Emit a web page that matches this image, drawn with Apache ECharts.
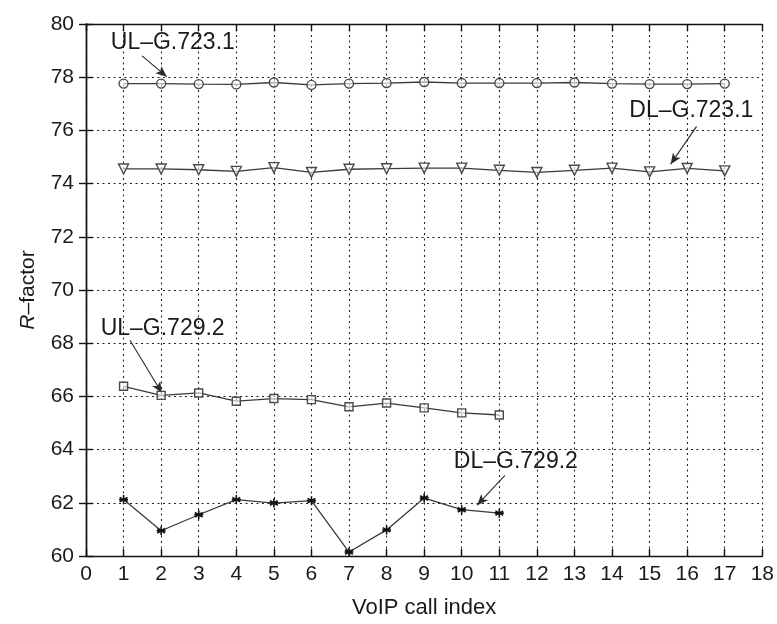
<!DOCTYPE html>
<html>
<head>
<meta charset="utf-8">
<script src="https://cdn.jsdelivr.net/npm/echarts@6/dist/echarts.min.js"></script>
<style>
  html, body { margin: 0; padding: 0; background: #fff; }
  #chart { width: 777px; height: 624px; }
</style>
</head>
<body>
<div id="chart"></div>
<script>
// VoIP call index (x) for each codec/link direction
const callsLong = [1, 2, 3, 4, 5, 6, 7, 8, 9, 10, 11, 12, 13, 14, 15, 16, 17];
const callsShort = [1, 2, 3, 4, 5, 6, 7, 8, 9, 10, 11];

// R-factor per call
const ulG7231 = [77.76, 77.76, 77.74, 77.73, 77.80, 77.71, 77.76, 77.78, 77.82, 77.78, 77.78, 77.78, 77.80, 77.76, 77.74, 77.74, 77.76];
const dlG7231 = [74.55, 74.55, 74.52, 74.46, 74.60, 74.42, 74.54, 74.56, 74.58, 74.58, 74.50, 74.42, 74.50, 74.58, 74.44, 74.57, 74.48];
const ulG7292 = [66.38, 66.04, 66.13, 65.82, 65.92, 65.88, 65.61, 65.75, 65.57, 65.38, 65.30];
const dlG7292 = [62.12, 60.95, 61.55, 62.12, 61.99, 62.08, 60.15, 60.98, 62.18, 61.74, 61.61];

// Axis ranges and ticks
const xMin = 0, xMax = 18, xStep = 1;
const yMin = 60, yMax = 80, yStep = 2;

// Callout labels: text, label anchor, arrow tail, arrow head (data units)
const callouts = [
  { text: 'UL\u2013G.723.1', at: [2.31, 79.29], from: [1.49, 78.80], to: [2.15, 78.02] },
  { text: 'DL\u2013G.723.1', at: [16.11, 76.75], from: [16.25, 76.15], to: [15.56, 74.73] },
  { text: 'UL\u2013G.729.2', at: [2.04, 68.56], from: [1.17, 68.11], to: [2.02, 66.13] },
  { text: 'DL\u2013G.729.2', at: [11.44, 63.55], from: [11.15, 63.03], to: [10.41, 61.91] }
];

const FONT = '"Liberation Sans", Arial, Helvetica, sans-serif';
const INK = '#1a1a1a';

const zip = (xs, ys) => ys.map((y, i) => [xs[i], y]);

const asterisk = 'path://M0,-5L0,5M-4.33,-2.5L4.33,2.5M-4.33,2.5L4.33,-2.5M-5,0L5,0';

function lineSeries(name, xs, ys, symbol, size, rotate) {
  return {
    name: name,
    type: 'line',
    data: zip(xs, ys),
    symbol: symbol,
    symbolSize: size,
    symbolRotate: rotate || 0,
    showAllSymbol: true,
    lineStyle: { color: '#3a3a3a', width: 1.3 },
    itemStyle: { color: 'rgba(255,255,255,0.6)', borderColor: '#4a4a4a', borderWidth: 1.4 },
    z: 5
  };
}

const series = [
  lineSeries('UL-G.723.1', callsLong, ulG7231, 'circle', 9),
  lineSeries('DL-G.723.1', callsLong, dlG7231, 'triangle', 10, 180),
  lineSeries('UL-G.729.2', callsShort, ulG7292, 'rect', 8),
  Object.assign(lineSeries('DL-G.729.2', callsShort, dlG7292, asterisk, 9), {
    itemStyle: { color: '#111', borderColor: '#111', borderWidth: 1.6 }
  })
];

// Callouts: arrows as mark lines, text as mark points
series.push({
  type: 'line',
  data: [],
  silent: true,
  markLine: {
    silent: true,
    symbol: ['none', 'arrow'],
    symbolSize: [7, 11],
    label: { show: false },
    lineStyle: { color: '#2a2a2a', width: 1.1, type: 'solid' },
    data: callouts.map(c => [{ coord: c.from }, { coord: c.to }])
  },
  markPoint: {
    silent: true,
    symbol: 'circle',
    symbolSize: 0,
    label: {
      show: true,
      position: 'inside',
      color: INK,
      fontFamily: FONT,
      fontSize: 23,
      formatter: p => p.name
    },
    data: callouts.map(c => ({ name: c.text, coord: c.at }))
  }
});

const axisLineStyle = { show: true, lineStyle: { color: '#111', width: 1.4 } };
const tickStyle = { show: true, inside: true, length: 7, lineStyle: { color: '#111', width: 1.4 } };
const gridLine = { show: true, lineStyle: { color: '#222', width: 1.1, type: [2, 3.5] } };

const option = {
  animation: false,
  backgroundColor: '#fff',
  grid: { left: 86, right: 13, top: 24, bottom: 65, containLabel: false },
  xAxis: [
    {
      type: 'value', min: xMin, max: xMax, interval: xStep, position: 'bottom',
      name: 'VoIP call index', nameLocation: 'middle', nameGap: 41,
      nameTextStyle: { color: INK, fontFamily: FONT, fontSize: 22 },
      axisLine: axisLineStyle, axisTick: tickStyle,
      axisLabel: { color: INK, fontFamily: FONT, fontSize: 21, margin: 8 },
      splitLine: gridLine
    },
    {
      type: 'value', min: xMin, max: xMax, interval: xStep, position: 'top',
      axisLine: axisLineStyle, axisTick: tickStyle,
      axisLabel: { show: false }, splitLine: { show: false }
    }
  ],
  yAxis: [
    {
      type: 'value', min: yMin, max: yMax, interval: yStep, position: 'left',
      name: '{i|R}\u2013factor', nameLocation: 'middle', nameGap: 47, nameRotate: 90,
      nameTextStyle: {
        color: INK, fontFamily: FONT, fontSize: 21,
        rich: { i: { fontStyle: 'italic', fontFamily: FONT, fontSize: 21, color: INK } }
      },
      axisLine: axisLineStyle, axisTick: tickStyle,
      axisLabel: { color: INK, fontFamily: FONT, fontSize: 21, margin: 12 },
      splitLine: gridLine
    },
    {
      type: 'value', min: yMin, max: yMax, interval: yStep, position: 'right',
      axisLine: axisLineStyle, axisTick: tickStyle,
      axisLabel: { show: false }, splitLine: { show: false }
    }
  ],
  series: series
};

const chart = echarts.init(document.getElementById('chart'), null, { renderer: 'canvas' });
chart.setOption(option);
</script>
</body>
</html>
